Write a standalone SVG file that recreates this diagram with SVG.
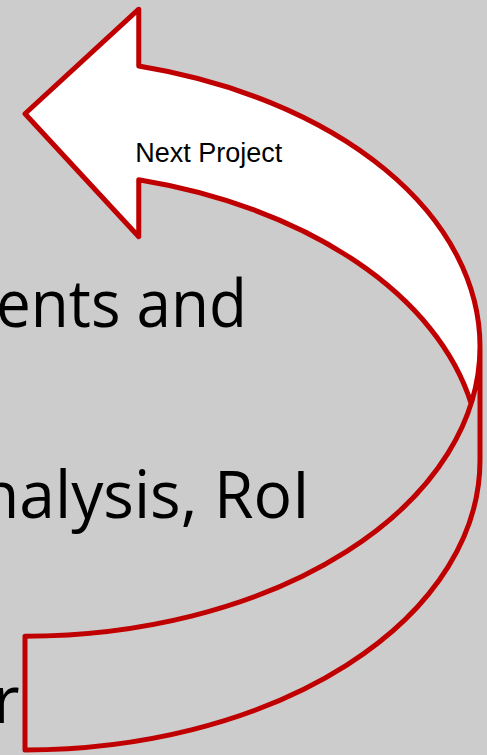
<svg xmlns="http://www.w3.org/2000/svg" width="487" height="755" viewBox="0 0 487 755">
  <style>
    .big { font-family: "Open Sans", "Liberation Sans", sans-serif; font-size: 65px; fill: #000000; }
    .label { font-family: "Liberation Sans", Arial, sans-serif; font-size: 27px; fill: #000000; }
    .band { fill: #cdcdcd; stroke: none; }
    .head { fill: #ffffff; stroke: none; }
    .outline { fill: none; stroke: #c00000; stroke-width: 5; stroke-linejoin: round; }
  </style>
  <rect x="0" y="0" width="487" height="755" fill="#cccccc"/>

  <g id="slide-text">
    <text class="big" x="-4" y="327" textLength="251" lengthAdjust="spacingAndGlyphs">ents and</text>
    <text class="big" x="-20" y="518" textLength="330" lengthAdjust="spacingAndGlyphs">nalysis, RoI</text>
    <text class="big" x="-7" y="723">r</text>
  </g>

  <g id="next-project-arrow">
    <path class="band" d="M480,346.56 A455,289.69 0 0 1 25,636.25 L25,750 A455,289.69 0 0 0 480,460.31 Z"/>
    <path class="head" d="M25,113.75 L138.75,236.69 L138.75,179.82 A455,289.69 0 0 1 471.14,403.44 A455,289.69 0 0 0 138.75,66.07 L138.75,9.2 Z"/>
    <path class="outline" d="M480,346.56 A455,289.69 0 0 1 25,636.25 L25,750 A455,289.69 0 0 0 480,460.31 L480,346.56 A455,289.69 0 0 0 138.75,66.07 L138.75,9.2 L25,113.75 L138.75,236.69 L138.75,179.82 A455,289.69 0 0 1 471.14,403.44"/>
    <text class="label" x="135.3" y="161.5">Next Project</text>
  </g>
</svg>
